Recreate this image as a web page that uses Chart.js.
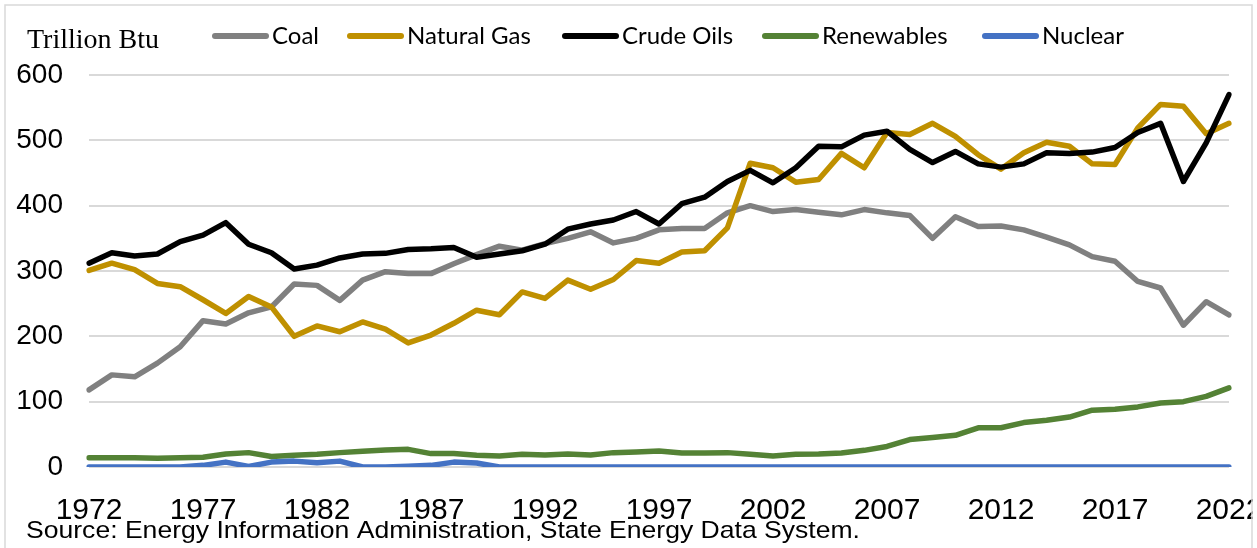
<!DOCTYPE html>
<html>
<head>
<meta charset="utf-8">
<script src="https://cdn.jsdelivr.net/npm/chart.js@4.4.0/dist/chart.umd.min.js"></script>
<style>
  html, body { margin: 0; padding: 0; background: #fff; overflow: hidden; }
  #wrap { position: relative; width: 1257px; height: 548px; }
</style>
</head>
<body>
<div id="wrap"><canvas id="energy" width="1257" height="548"></canvas></div>
<script>
"use strict";

// data (trillion Btu)
const years = [];
for (let y = 1972; y <= 2022; y++) years.push(String(y));

const coal = [118, 141, 138, 159, 184, 224, 219, 236, 245, 280,
  278, 255, 286, 299, 296, 296, 311, 325, 338, 332,
  342, 350, 360, 343, 350, 363, 365, 365, 389, 400,
  391, 394, 390, 386, 394, 389, 385, 350, 383, 368,
  369, 363, 352, 340, 322, 315, 284, 274, 217, 253, 233];

const naturalGas = [301, 312, 302, 281, 276, 256, 235, 261, 245, 200,
  216, 207, 222, 211, 190, 202, 220, 240, 233, 268,
  258, 286, 272, 287, 316, 312, 329, 331, 366, 465,
  458, 436, 440, 480, 458, 512, 509, 526, 506, 478,
  456, 481, 497, 491, 464, 463, 519, 555, 552, 510, 526];

const crudeOils = [312, 328, 323, 326, 345, 355, 374, 341, 328, 303,
  309, 320, 326, 327, 333, 334, 336, 321, 326, 331,
  341, 364, 372, 378, 391, 372, 403, 413, 437, 454,
  435, 458, 491, 490, 508, 514, 486, 466, 483, 464,
  459, 464, 481, 480, 482, 489, 512, 526, 437, 496, 570];

const renewables = [14, 14, 14, 13.5, 14, 15, 20, 22, 16, 18,
  19.5, 22, 24, 26, 27, 20.5, 20.5, 18, 17, 19.5,
  18.5, 20, 18.5, 22, 23, 24.5, 21.5, 21.5, 22, 19.5,
  17, 19.5, 20, 21.5, 25.5, 31.5, 42, 45, 48.5, 60,
  60, 68, 71.5, 76.5, 87, 88.5, 92, 98, 100, 108, 121];

const nuclear = [0, 0, 0, 0, 0, 2.5, 7.5, 1, 7.5, 9,
  6.5, 9, 0, 0, 1, 2.5, 7.5, 6, 0, 0,
  0, 0, 0, 0, 0, 0, 0, 0, 0, 0,
  0, 0, 0, 0, 0, 0, 0, 0, 0, 0,
  0, 0, 0, 0, 0, 0, 0, 0, 0, 0, 0];

const yTicks = [0, 100, 200, 300, 400, 500, 600];

const mkLine = (label, data, color, order) => ({
  label: label,
  data: data,
  borderColor: color,
  backgroundColor: color,
  borderWidth: 5.5,
  borderJoinStyle: 'round',
  borderCapStyle: 'round',
  pointRadius: 0,
  tension: 0,
  fill: false,
  order: order
});

// legend, unit label, source note, frame
const extras = {
  id: 'extras',
  afterDraw(chart) {
    const ctx = chart.ctx;
    ctx.save();

    ctx.fillStyle = '#000';
    ctx.font = '28px "Liberation Serif", "Times New Roman", serif';
    ctx.textBaseline = 'alphabetic';
    ctx.textAlign = 'left';
    ctx.fillText('Trillion Btu', 27, 48);

    const legendX = [213, 348, 563, 763, 983];
    ctx.font = '24px Lato, "Open Sans", sans-serif';
    ctx.textBaseline = 'middle';
    chart.data.datasets.forEach((ds, i) => {
      const x = legendX[i];
      ctx.strokeStyle = ds.borderColor;
      ctx.lineWidth = 6;
      ctx.lineCap = 'round';
      ctx.beginPath();
      ctx.moveTo(x + 2, 36);
      ctx.lineTo(x + 53, 36);
      ctx.stroke();
      ctx.fillStyle = '#000';
      ctx.fillText(ds.label, x + 59, 36);
    });

    // source note, stretched a bit to the original width
    const src = 'Source: Energy Information Administration, State Energy Data System.';
    ctx.font = '24px "Liberation Sans", Arial, sans-serif';
    ctx.textBaseline = 'alphabetic';
    const w = ctx.measureText(src).width;
    ctx.save();
    ctx.translate(26, 538);
    ctx.scale(834 / w, 1);
    ctx.fillText(src, 0, 0);
    ctx.restore();

    // clip right side like the original frame, then frame
    ctx.fillStyle = '#fff';
    ctx.fillRect(1253, 0, 10, 548);
    ctx.strokeStyle = '#d9d9d9';
    ctx.lineWidth = 1.5;
    ctx.strokeRect(5, 5, 1247, 560);
    ctx.restore();
  }
};

const energyChart = new Chart(document.getElementById('energy'), {
  type: 'line',
  data: {
    labels: years,
    datasets: [
      mkLine('Coal', coal, '#808080', 5),
      mkLine('Natural Gas', naturalGas, '#bf9000', 4),
      mkLine('Crude Oils', crudeOils, '#000000', 3),
      mkLine('Renewables', renewables, '#548235', 2),
      mkLine('Nuclear', nuclear, '#4472c4', 1)
    ]
  },
  options: {
    responsive: false,
    animation: false,
    devicePixelRatio: 1,
    layout: { padding: { top: 75, right: 28, left: 0, bottom: 0 } },
    plugins: {
      legend: { display: false },
      tooltip: { enabled: false }
    },
    scales: {
      x: {
        offset: false,
        grid: { display: false, drawTicks: false },
        border: { display: false },
        ticks: {
          autoSkip: false,
          maxRotation: 0,
          padding: 26,
          color: '#000',
          font: { family: '"Liberation Sans", Arial, sans-serif', size: 30 },
          callback: function (val, idx) {
            const yr = Number(this.getLabelForValue(val));
            return (yr - 1972) % 5 === 0 ? String(yr) : '';
          }
        },
        afterFit(s) {
          s.height = 81;
          s.paddingLeft = 0;
          s.paddingRight = 0;
        }
      },
      y: {
        min: 0,
        max: 600,
        afterBuildTicks(s) {
          s.ticks = yTicks.map(v => ({ value: v }));
        },
        grid: { color: '#d9d9d9', lineWidth: 2, drawTicks: false },
        border: { display: false },
        ticks: {
          padding: 26,
          color: '#000',
          font: { family: '"Liberation Sans", Arial, sans-serif', size: 28 }
        },
        afterFit(s) {
          s.width = 89;
        }
      }
    }
  },
  plugins: [extras]
});
</script>
</body>
</html>
